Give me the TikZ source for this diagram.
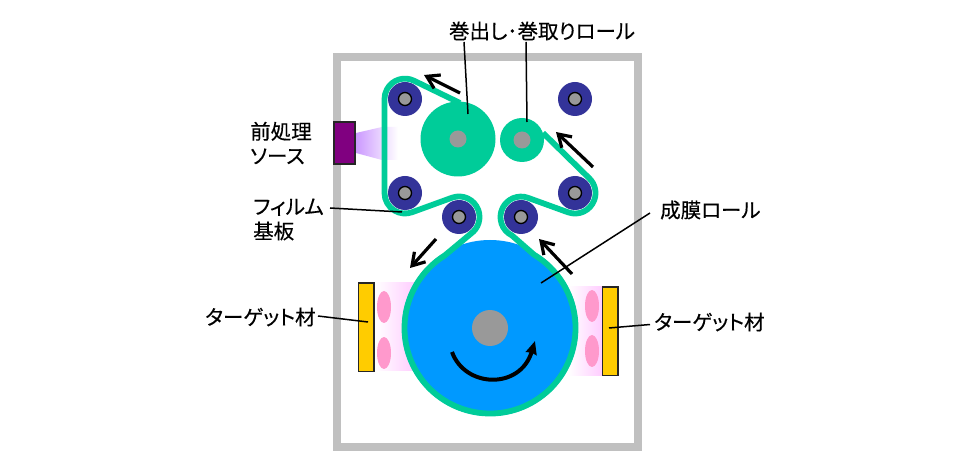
\documentclass[tikz,border=0pt]{standalone}
\usepackage{fontspec}
\setmainfont{Noto Sans CJK JP}
\newfontfamily\labfont[FakeBold=0.35,RawFeature=+palt]{Noto Sans CJK JP}
\usetikzlibrary{arrows.meta,shapes.geometric}
\definecolor{filmc}{HTML}{00CC99}
\definecolor{navyc}{HTML}{333399}
\definecolor{drumc}{HTML}{0099FF}
\definecolor{goldc}{HTML}{FFCC00}
\definecolor{purpc}{HTML}{800080}
\definecolor{framec}{HTML}{C0C0C0}
\definecolor{pinkc}{HTML}{FF99CC}
\definecolor{greyc}{HTML}{999999}
\definecolor{glowc}{HTML}{FFCCFF}
\definecolor{beamc}{HTML}{CC99FF}
\tikzset{
  roller/.style={circle,fill=navyc,inner sep=0pt,minimum size=34pt},
  hub/.style={circle,fill=greyc,draw=black,line width=1.3pt,inner sep=0pt,minimum size=13pt},
  axle/.style={circle,fill=greyc,inner sep=0pt},
  roll/.style={circle,fill=filmc,inner sep=0pt},
  target/.style={rectangle,fill=goldc,draw=black!85,line width=1.5pt,inner sep=0pt,minimum width=15.5pt,minimum height=88.5pt},
  plasma/.style={ellipse,fill=pinkc,inner sep=0pt,minimum width=14pt,minimum height=32pt},
  film/.style={draw=filmc,line width=5.8pt,line join=round},
  move/.style={draw=black,line width=3.2pt,-{Straight Barb[length=12pt,width=15pt,line width=3.2pt]}},
  leader/.style={draw=black,line width=1.5pt},
  lab/.style={font=\labfont\fontsize{20.5}{24.5}\selectfont,inner sep=0pt,align=left,text=black}
}
\begin{document}
\begin{tikzpicture}[x=1pt,y=1pt,yscale=-1]
\useasboundingbox (0,0) rectangle (970,470);
\fill[white] (0,0) rectangle (970,470);
% frame
\draw[framec,line width=8pt] (336.5,57) rectangle (638,447);
% beams
\shade[left color=beamc,right color=white] (356,133) -- (382,127) -- (398,127) -- (398,160) -- (382,160) -- (356,153) -- cycle;
\shade[left color=white,right color=glowc] (375,283) rectangle (415,371);
\shade[left color=white,right color=glowc] (568,287) rectangle (602,376);
% source
\node[rectangle,fill=purpc,draw=black!85,line width=1.5pt,inner sep=0pt,minimum width=21pt,minimum height=42pt] (src) at (344.5,143) {};
% rollers
\node[roller] (tl) at (405,99) {};
\node[roller] (tr) at (575,99) {};
\node[roller] (bl) at (405,193) {};
\node[roller] (br) at (575,193) {};
\node[roller] (ll) at (459,217) {};
\node[roller] (lr) at (521,217) {};
\foreach \r in {tl,tr,bl,br,ll,lr} \node[hub] (hub\r) at (\r) {};
% rolls
\node[roll,minimum size=75pt] (big) at (458,139) {};
\node[roll,minimum size=44pt] (small) at (522,140) {};
\node[axle,minimum size=17pt] (bigax) at (big) {};
\node[axle,minimum size=17pt] (smallax) at (small) {};
% targets
\node[target] (tleft) at (366,327.5) {};
\node[target] (tright) at (610,331.5) {};
\node[plasma] (p1) at (384,307) {};
\node[plasma] (p2) at (384,353) {};
\node[plasma] (p3) at (592,306) {};
\node[plasma] (p4) at (592,351) {};
% drum
\node[circle,fill=drumc,inner sep=0pt,minimum size=176pt] (drum) at (490,328) {};
\node[axle,minimum size=36pt] (drumax) at (drum) {};
% film
\path[film] (460,103) -- (414.6,81)
  arc[start angle=298,end angle=180,radius=20.5]
  -- (384.5,193)
  arc[start angle=180,end angle=70,radius=20.5]
  -- (452,197.7)
  arc[start angle=250,end angle=415,radius=20.5]
  -- (444.7,255.5)
  arc[start angle=238,end angle=-59,radius=85.5]
  -- (512,235.5)
  arc[start angle=116,end angle=290,radius=20.5]
  -- (568,212.3)
  arc[start angle=110,end angle=-45,radius=20.5]
  -- (543,133);
% arrows
\coordinate (a1s) at (460,93);\coordinate (a1e) at (424,75);
\coordinate (a2s) at (593,167);\coordinate (a2e) at (556,132);
\coordinate (a3s) at (436,239);\coordinate (a3e) at (410,268);
\coordinate (a4s) at (572,274);\coordinate (a4e) at (539,239);
\path[move] (a1s) -- (a1e);
\path[move] (a2s) -- (a2e);
\path[move] (a3s) -- (a3e);
\path[move] (a4s) -- (a4e);
\coordinate (rs) at (452,352);\coordinate (re) at (535,341);
\draw[line width=4pt,-{Stealth[length=13pt,width=11pt,inset=1pt]}] (rs) .. controls (465,388) and (520,390) .. (re);
% labels
\node[lab,anchor=center] (l1) at (542,31) {巻出し･巻取りロール};
\node[lab,anchor=west] (l2) at (250,143) {前処理\\ソース};
\node[lab,anchor=west] (l3) at (253,219.5) {フィルム\\基板};
\node[lab,anchor=west] (l4) at (205,317) {ターゲット材};
\node[lab,anchor=west] (l5) at (654,322) {ターゲット材};
\node[lab,anchor=west] (l6) at (660,210) {成膜ロール};
% leaders
\coordinate (e1) at (468,114);\coordinate (s1) at (464,42);
\coordinate (e2) at (527,122);\coordinate (s2) at (526,42);
\coordinate (e3) at (402,212);\coordinate (s3) at (330,208);
\coordinate (e4) at (541,283);\coordinate (s4) at (650,213);
\coordinate (e5) at (368,322);\coordinate (s5) at (318,316);
\coordinate (e6) at (609,328);\coordinate (s6) at (650,324.5);
\draw[leader] (s1) -- (e1);
\draw[leader] (s2) -- (e2);
\draw[leader] (s3) -- (e3);
\draw[leader] (s4) -- (e4);
\draw[leader] (s5) -- (e5);
\draw[leader] (s6) -- (e6);
\end{tikzpicture}
\end{document}
